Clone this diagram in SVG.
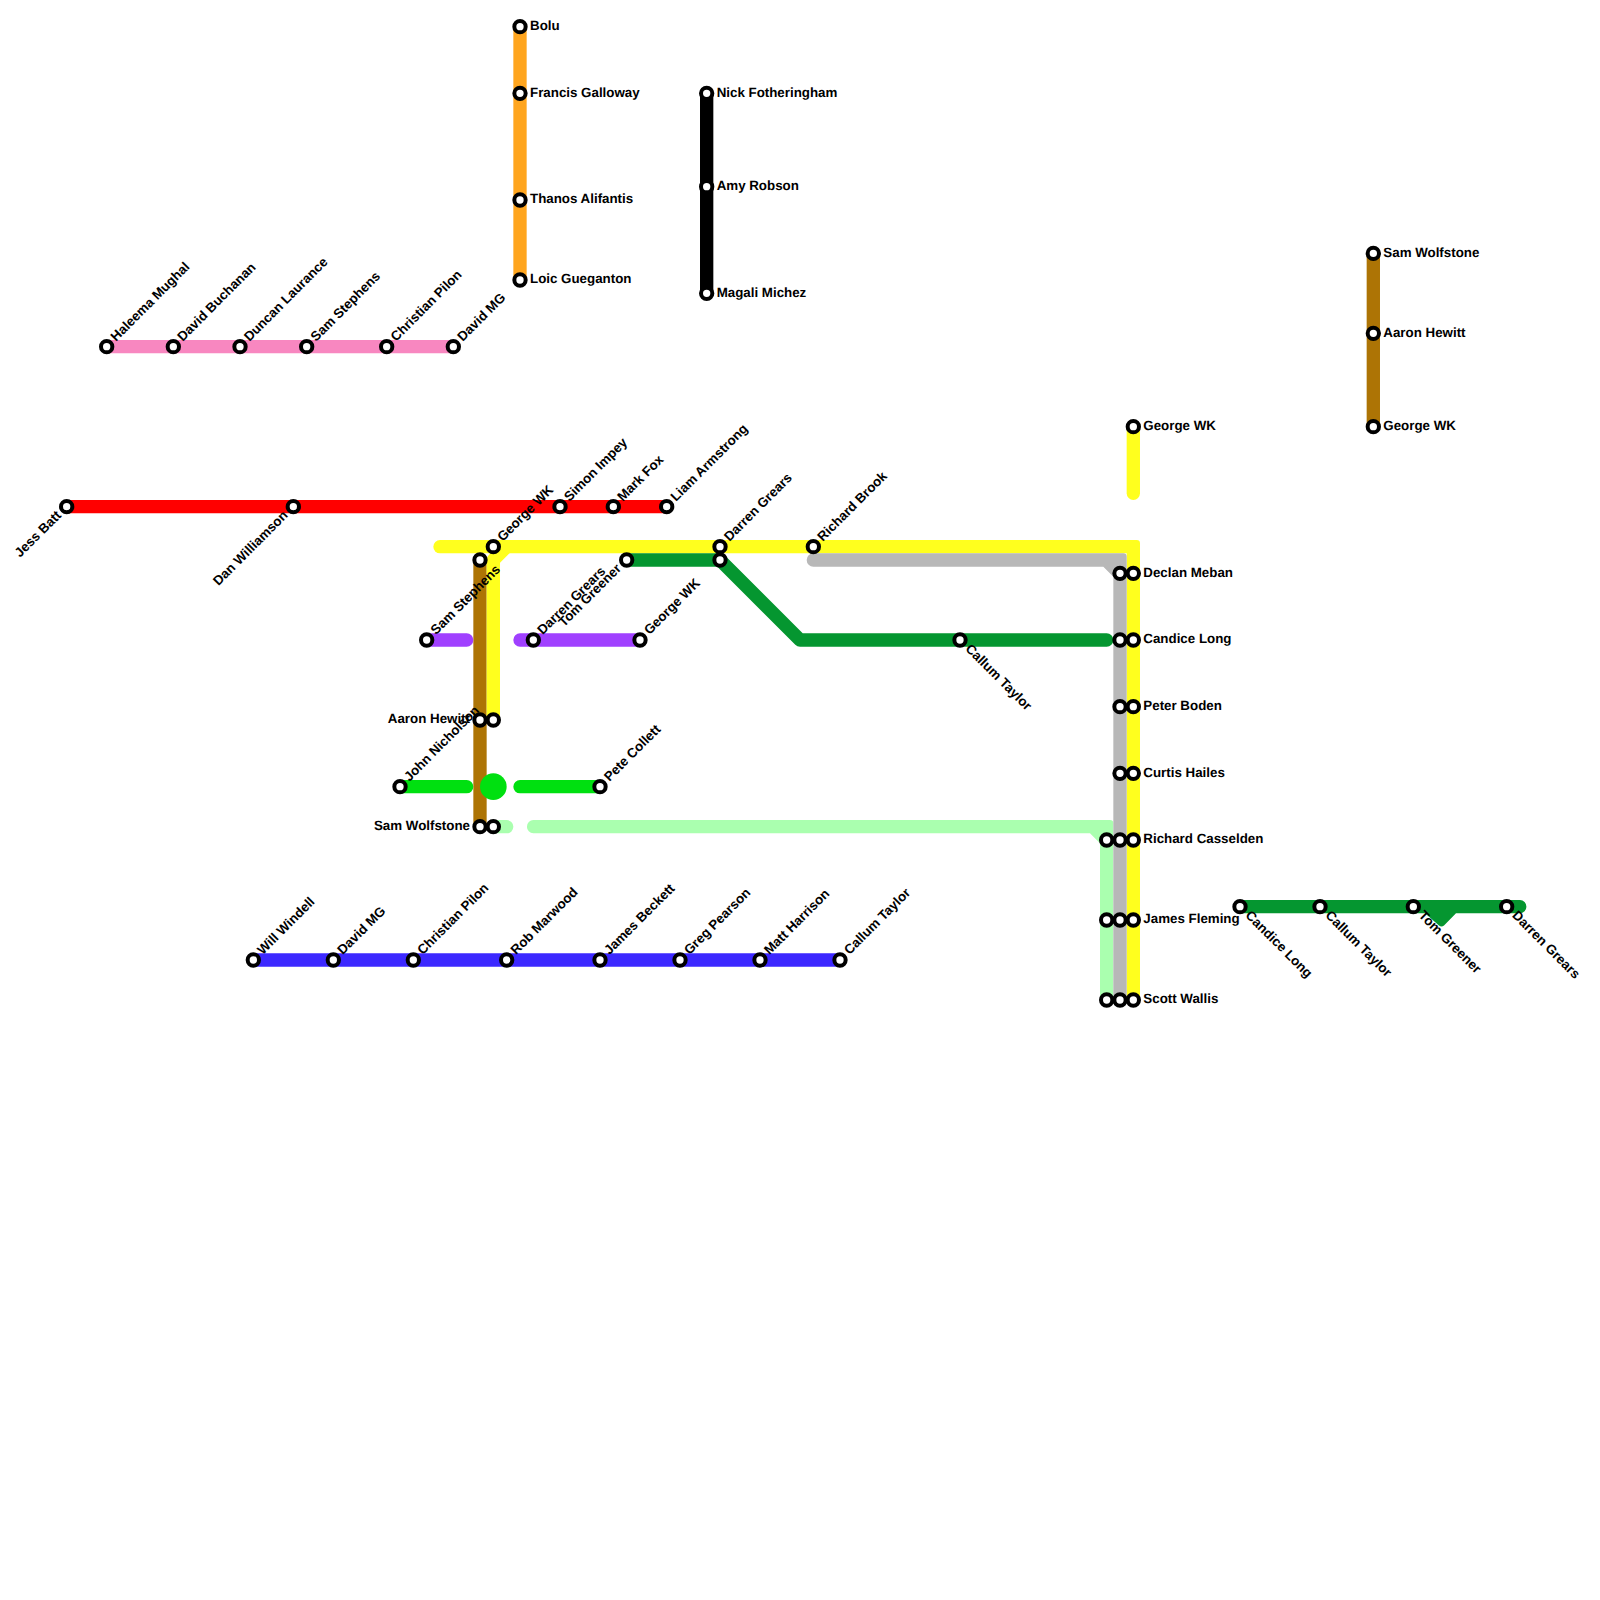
<svg xmlns="http://www.w3.org/2000/svg" width="1600" height="1600" viewBox="0 0 1600 1600">
<style>
.l{fill:none;stroke-width:13.33;stroke-linecap:round;stroke-linejoin:round}
.s{fill:#fff;stroke:#000;stroke-width:4;r:5.67px}
text{font-family:"Liberation Sans",Arial,sans-serif;font-size:13.33px;font-weight:bold;fill:#000;text-rendering:geometricPrecision}
.e{text-anchor:end}
</style>
<rect width="1600" height="1600" fill="#fff"/>
<g id="connectors">
<path class="l" stroke="#f887c0" d="M106.67 346.67H453.33"/>
<path class="l" stroke="#ff0000" d="M66.67 506.67H666.67"/>
<path class="l" stroke="#ffa51e" d="M520 26.67V280"/>
<path class="l" stroke="#000" d="M706.67 93.33V293.33"/>
<path class="l" stroke="#ad7405" d="M1373.33 253.33V426.67"/>
<path class="l" stroke="#ad7405" d="M480 560V826.67"/>
<path class="l" stroke="#ffff1e" d="M1133.33 426.67V493.33"/>
<path class="l" stroke="#ffff1e" d="M440 546.67H506.67"/>
<path class="l" stroke="#ffff1e" d="M493.33 720V560L506.67 546.67"/>
<path fill="#ffff1e" d="M500 540H1136.67Q1140 540 1140 543.33V1000H1126.67V553.33H500Z"/>
<path class="l" stroke="#a040ff" d="M426.67 640H466.67M520 640H640"/>
<path class="l" stroke="#00e010" d="M400 786.67H466.67M520 786.67H600"/>
<circle cx="493.33" cy="786.67" r="13.33" fill="#00e010"/>
<path class="l" stroke="#aaffaf" d="M493.33 826.67H506.67"/>
<path fill="#aaffaf" d="M533.33 820H1110Q1113.33 820 1113.33 823.33V1000H1100V843.33L1090 833.33H533.33A6.67 6.67 0 0 1 533.33 820Z"/>
<path fill="#b8b8b8" d="M813.33 553.33H1123.33Q1126.67 553.33 1126.67 556.67V1000H1113.33V576.67L1103.33 566.67H813.33A6.67 6.67 0 0 1 813.33 553.33Z"/>
<path class="l" stroke="#059630" d="M626.67 560H720L800 640H1106.67"/>
<path class="l" stroke="#3c28ff" d="M253.33 960H840"/>
<path fill="#059630" d="M1240 900H1520A6.67 6.67 0 0 1 1520 913.33H1456L1444 925.5Q1441.5 927.5 1439 925.5L1425 913.33H1240Z"/>
</g>
<g id="n1"><circle class="s" cx="106.67" cy="346.67"/><text transform="translate(106.67 346.67) rotate(-45)" x="10" y="3.33">Haleema Mughal</text></g>
<g id="n2"><circle class="s" cx="173.33" cy="346.67"/><text transform="translate(173.33 346.67) rotate(-45)" x="10" y="3.33">David Buchanan</text></g>
<g id="n3"><circle class="s" cx="240" cy="346.67"/><text transform="translate(240 346.67) rotate(-45)" x="10" y="3.33">Duncan Laurance</text></g>
<g id="n4"><circle class="s" cx="306.67" cy="346.67"/><text transform="translate(306.67 346.67) rotate(-45)" x="10" y="3.33">Sam Stephens</text></g>
<g id="n5"><circle class="s" cx="386.67" cy="346.67"/><text transform="translate(386.67 346.67) rotate(-45)" x="10" y="3.33">Christian Pilon</text></g>
<g id="n6"><circle class="s" cx="453.33" cy="346.67"/><text transform="translate(453.33 346.67) rotate(-45)" x="10" y="3.33">David MG</text></g>
<g id="n7"><circle class="s" cx="66.67" cy="506.67"/><text class="e" transform="translate(66.67 506.67) rotate(-45)" x="-10" y="3.33">Jess Batt</text></g>
<g id="n8"><circle class="s" cx="293.33" cy="506.67"/><text class="e" transform="translate(293.33 506.67) rotate(-45)" x="-10" y="3.33">Dan Williamson</text></g>
<g id="n9"><circle class="s" cx="560" cy="506.67"/><text transform="translate(560 506.67) rotate(-45)" x="10" y="3.33">Simon Impey</text></g>
<g id="n10"><circle class="s" cx="613.33" cy="506.67"/><text transform="translate(613.33 506.67) rotate(-45)" x="10" y="3.33">Mark Fox</text></g>
<g id="n11"><circle class="s" cx="666.67" cy="506.67"/><text transform="translate(666.67 506.67) rotate(-45)" x="10" y="3.33">Liam Armstrong</text></g>
<g id="n12"><circle class="s" cx="520" cy="26.67"/><text x="530" y="30">Bolu</text></g>
<g id="n13"><circle class="s" cx="520" cy="93.33"/><text x="530" y="96.67">Francis Galloway</text></g>
<g id="n14"><circle class="s" cx="520" cy="200"/><text x="530" y="203.33">Thanos Alifantis</text></g>
<g id="n15"><circle class="s" cx="520" cy="280"/><text x="530" y="283.33">Loic Gueganton</text></g>
<g id="n16"><circle class="s" cx="706.67" cy="93.33"/><text x="716.67" y="96.67">Nick Fotheringham</text></g>
<g id="n17"><circle class="s" cx="706.67" cy="186.67"/><text x="716.67" y="190">Amy Robson</text></g>
<g id="n18"><circle class="s" cx="706.67" cy="293.33"/><text x="716.67" y="296.67">Magali Michez</text></g>
<g id="n19"><circle class="s" cx="1373.33" cy="253.33"/><text x="1383.33" y="256.67">Sam Wolfstone</text></g>
<g id="n20"><circle class="s" cx="1373.33" cy="333.33"/><text x="1383.33" y="336.67">Aaron Hewitt</text></g>
<g id="n21"><circle class="s" cx="1373.33" cy="426.67"/><text x="1383.33" y="430">George WK</text></g>
<g id="n22"><circle class="s" cx="1133.33" cy="426.67"/><text x="1143.33" y="430">George WK</text></g>
<g id="n23"><circle class="s" cx="493.33" cy="546.67"/><text transform="translate(493.33 546.67) rotate(-45)" x="10" y="3.33">George WK</text></g>
<g id="n24"><circle class="s" cx="480" cy="560"/></g>
<g id="n25"><circle class="s" cx="720" cy="546.67"/><text transform="translate(720 546.67) rotate(-45)" x="10" y="3.33">Darren Grears</text></g>
<g id="n26"><circle class="s" cx="720" cy="560"/></g>
<g id="n27"><circle class="s" cx="813.33" cy="546.67"/><text transform="translate(813.33 546.67) rotate(-45)" x="10" y="3.33">Richard Brook</text></g>
<g id="n28"><circle class="s" cx="626.67" cy="560"/><text class="e" transform="translate(626.67 560) rotate(-45)" x="-10" y="3.33">Tom Greener</text></g>
<g id="n29"><circle class="s" cx="426.67" cy="640"/><text transform="translate(426.67 640) rotate(-45)" x="10" y="3.33">Sam Stephens</text></g>
<g id="n30"><circle class="s" cx="533.33" cy="640"/><text transform="translate(533.33 640) rotate(-45)" x="10" y="3.33">Darren Grears</text></g>
<g id="n31"><circle class="s" cx="640" cy="640"/><text transform="translate(640 640) rotate(-45)" x="10" y="3.33">George WK</text></g>
<g id="n32"><circle class="s" cx="960" cy="640"/><text transform="translate(960 640) rotate(45)" x="10" y="3.33">Callum Taylor</text></g>
<g id="n33"><circle class="s" cx="480" cy="720"/><text class="e" x="470" y="723.33">Aaron Hewitt</text></g>
<g id="n34"><circle class="s" cx="493.33" cy="720"/></g>
<g id="n35"><circle class="s" cx="400" cy="786.67"/><text transform="translate(400 786.67) rotate(-45)" x="10" y="3.33">John Nicholson</text></g>
<g id="n36"><circle class="s" cx="600" cy="786.67"/><text transform="translate(600 786.67) rotate(-45)" x="10" y="3.33">Pete Collett</text></g>
<g id="n37"><circle class="s" cx="480" cy="826.67"/><text class="e" x="470" y="830">Sam Wolfstone</text></g>
<g id="n38"><circle class="s" cx="493.33" cy="826.67"/></g>
<g id="n39"><circle class="s" cx="253.33" cy="960"/><text transform="translate(253.33 960) rotate(-45)" x="10" y="3.33">Will Windell</text></g>
<g id="n40"><circle class="s" cx="333.33" cy="960"/><text transform="translate(333.33 960) rotate(-45)" x="10" y="3.33">David MG</text></g>
<g id="n41"><circle class="s" cx="413.33" cy="960"/><text transform="translate(413.33 960) rotate(-45)" x="10" y="3.33">Christian Pilon</text></g>
<g id="n42"><circle class="s" cx="506.67" cy="960"/><text transform="translate(506.67 960) rotate(-45)" x="10" y="3.33">Rob Marwood</text></g>
<g id="n43"><circle class="s" cx="600" cy="960"/><text transform="translate(600 960) rotate(-45)" x="10" y="3.33">James Beckett</text></g>
<g id="n44"><circle class="s" cx="680" cy="960"/><text transform="translate(680 960) rotate(-45)" x="10" y="3.33">Greg Pearson</text></g>
<g id="n45"><circle class="s" cx="760" cy="960"/><text transform="translate(760 960) rotate(-45)" x="10" y="3.33">Matt Harrison</text></g>
<g id="n46"><circle class="s" cx="840" cy="960"/><text transform="translate(840 960) rotate(-45)" x="10" y="3.33">Callum Taylor</text></g>
<g id="n47"><circle class="s" cx="1120" cy="573.33"/></g>
<g id="n48"><circle class="s" cx="1133.33" cy="573.33"/><text x="1143.33" y="576.67">Declan Meban</text></g>
<g id="n49"><circle class="s" cx="1120" cy="640"/></g>
<g id="n50"><circle class="s" cx="1133.33" cy="640"/><text x="1143.33" y="643.33">Candice Long</text></g>
<g id="n51"><circle class="s" cx="1120" cy="706.67"/></g>
<g id="n52"><circle class="s" cx="1133.33" cy="706.67"/><text x="1143.33" y="710">Peter Boden</text></g>
<g id="n53"><circle class="s" cx="1120" cy="773.33"/></g>
<g id="n54"><circle class="s" cx="1133.33" cy="773.33"/><text x="1143.33" y="776.67">Curtis Hailes</text></g>
<g id="n55"><circle class="s" cx="1106.67" cy="840"/></g>
<g id="n56"><circle class="s" cx="1120" cy="840"/></g>
<g id="n57"><circle class="s" cx="1133.33" cy="840"/><text x="1143.33" y="843.33">Richard Casselden</text></g>
<g id="n58"><circle class="s" cx="1106.67" cy="920"/></g>
<g id="n59"><circle class="s" cx="1120" cy="920"/></g>
<g id="n60"><circle class="s" cx="1133.33" cy="920"/><text x="1143.33" y="923.33">James Fleming</text></g>
<g id="n61"><circle class="s" cx="1106.67" cy="1000"/></g>
<g id="n62"><circle class="s" cx="1120" cy="1000"/></g>
<g id="n63"><circle class="s" cx="1133.33" cy="1000"/><text x="1143.33" y="1003.33">Scott Wallis</text></g>
<g id="n64"><circle class="s" cx="1240" cy="906.67"/><text transform="translate(1240 906.67) rotate(45)" x="10" y="3.33">Candice Long</text></g>
<g id="n65"><circle class="s" cx="1320" cy="906.67"/><text transform="translate(1320 906.67) rotate(45)" x="10" y="3.33">Callum Taylor</text></g>
<g id="n66"><circle class="s" cx="1413.33" cy="906.67"/><text transform="translate(1413.33 906.67) rotate(45)" x="10" y="3.33">Tom Greener</text></g>
<g id="n67"><circle class="s" cx="1506.67" cy="906.67"/><text transform="translate(1506.67 906.67) rotate(45)" x="10" y="3.33">Darren Grears</text></g>
</svg>
